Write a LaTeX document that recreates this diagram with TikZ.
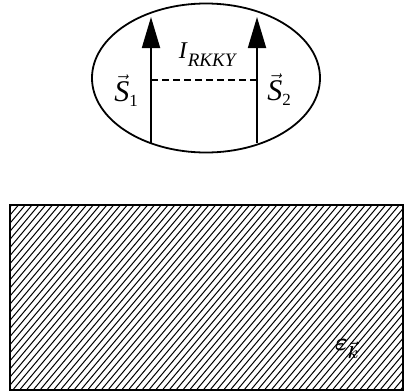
\documentclass[tikz,border=0pt]{standalone}
\usepackage{amsmath}
\usepackage{fontspec}
\setmainfont{Liberation Serif}
\usetikzlibrary{arrows.meta,shapes.geometric}
\tikzset{
  spin/.style={line width=1.8pt,-{Triangle[length=31pt,width=18pt]}},
  coupling/.style={line width=1.4pt,dash pattern=on 7pt off 4pt},
  lbl/.style={inner sep=0pt},
  hatch/.style={line width=1pt},
}
\newcommand{\spinlbl}[1]{{\fontsize{30pt}{32pt}\selectfont$\vec{\mbox{\textit{S}}}$}\raisebox{-5pt}{\fontsize{17pt}{18pt}\selectfont #1}}
\newcommand{\rkkylbl}{{\fontsize{24pt}{26pt}\selectfont\textit{I}}\raisebox{-8pt}{\fontsize{19pt}{20pt}\selectfont\textit{RKKY}}}
\begin{document}
\begin{tikzpicture}[x=1pt,y=-1pt]
\useasboundingbox (0,0) rectangle (404,391);
% cluster ellipse
\node[draw,line width=1.8pt,ellipse,minimum width=228pt,minimum height=149pt,inner sep=0pt] (cl) at (206,78) {};
% spins
\coordinate (s1b) at (151,143);
\coordinate (s1t) at (151,17);
\coordinate (s2b) at (257,143);
\coordinate (s2t) at (257,17);
\draw[spin] (s1b) -- (s1t);
\draw[spin] (s2b) -- (s2t);
\coordinate (d1) at (151,80);
\coordinate (d2) at (257,80);
\draw[coupling] (d1) -- (d2);
\node[lbl] (irkky) at (208,55) {\rkkylbl};
\node[lbl] (lS1) at (126,91) {\spinlbl{1}};
\node[lbl] (lS2) at (279,90) {\spinlbl{2}};
% host metal
\begin{scope}
\clip (9,204) rectangle (402,389);
\foreach \i in {-40,...,70} {
  \draw[hatch] (\i*6.8,389) -- ++(230,-274);
}
\end{scope}
\node[draw,line width=2.4pt,minimum width=393pt,minimum height=185pt,inner sep=0pt,anchor=north west] (metal) at (9,204) {};
\node[inner sep=0pt,font=\fontsize{24pt}{26pt}\selectfont] (eps) at (347,349) {$\boldsymbol{\varepsilon}_{\boldsymbol{\vec k}}$};
\end{tikzpicture}
\end{document}
